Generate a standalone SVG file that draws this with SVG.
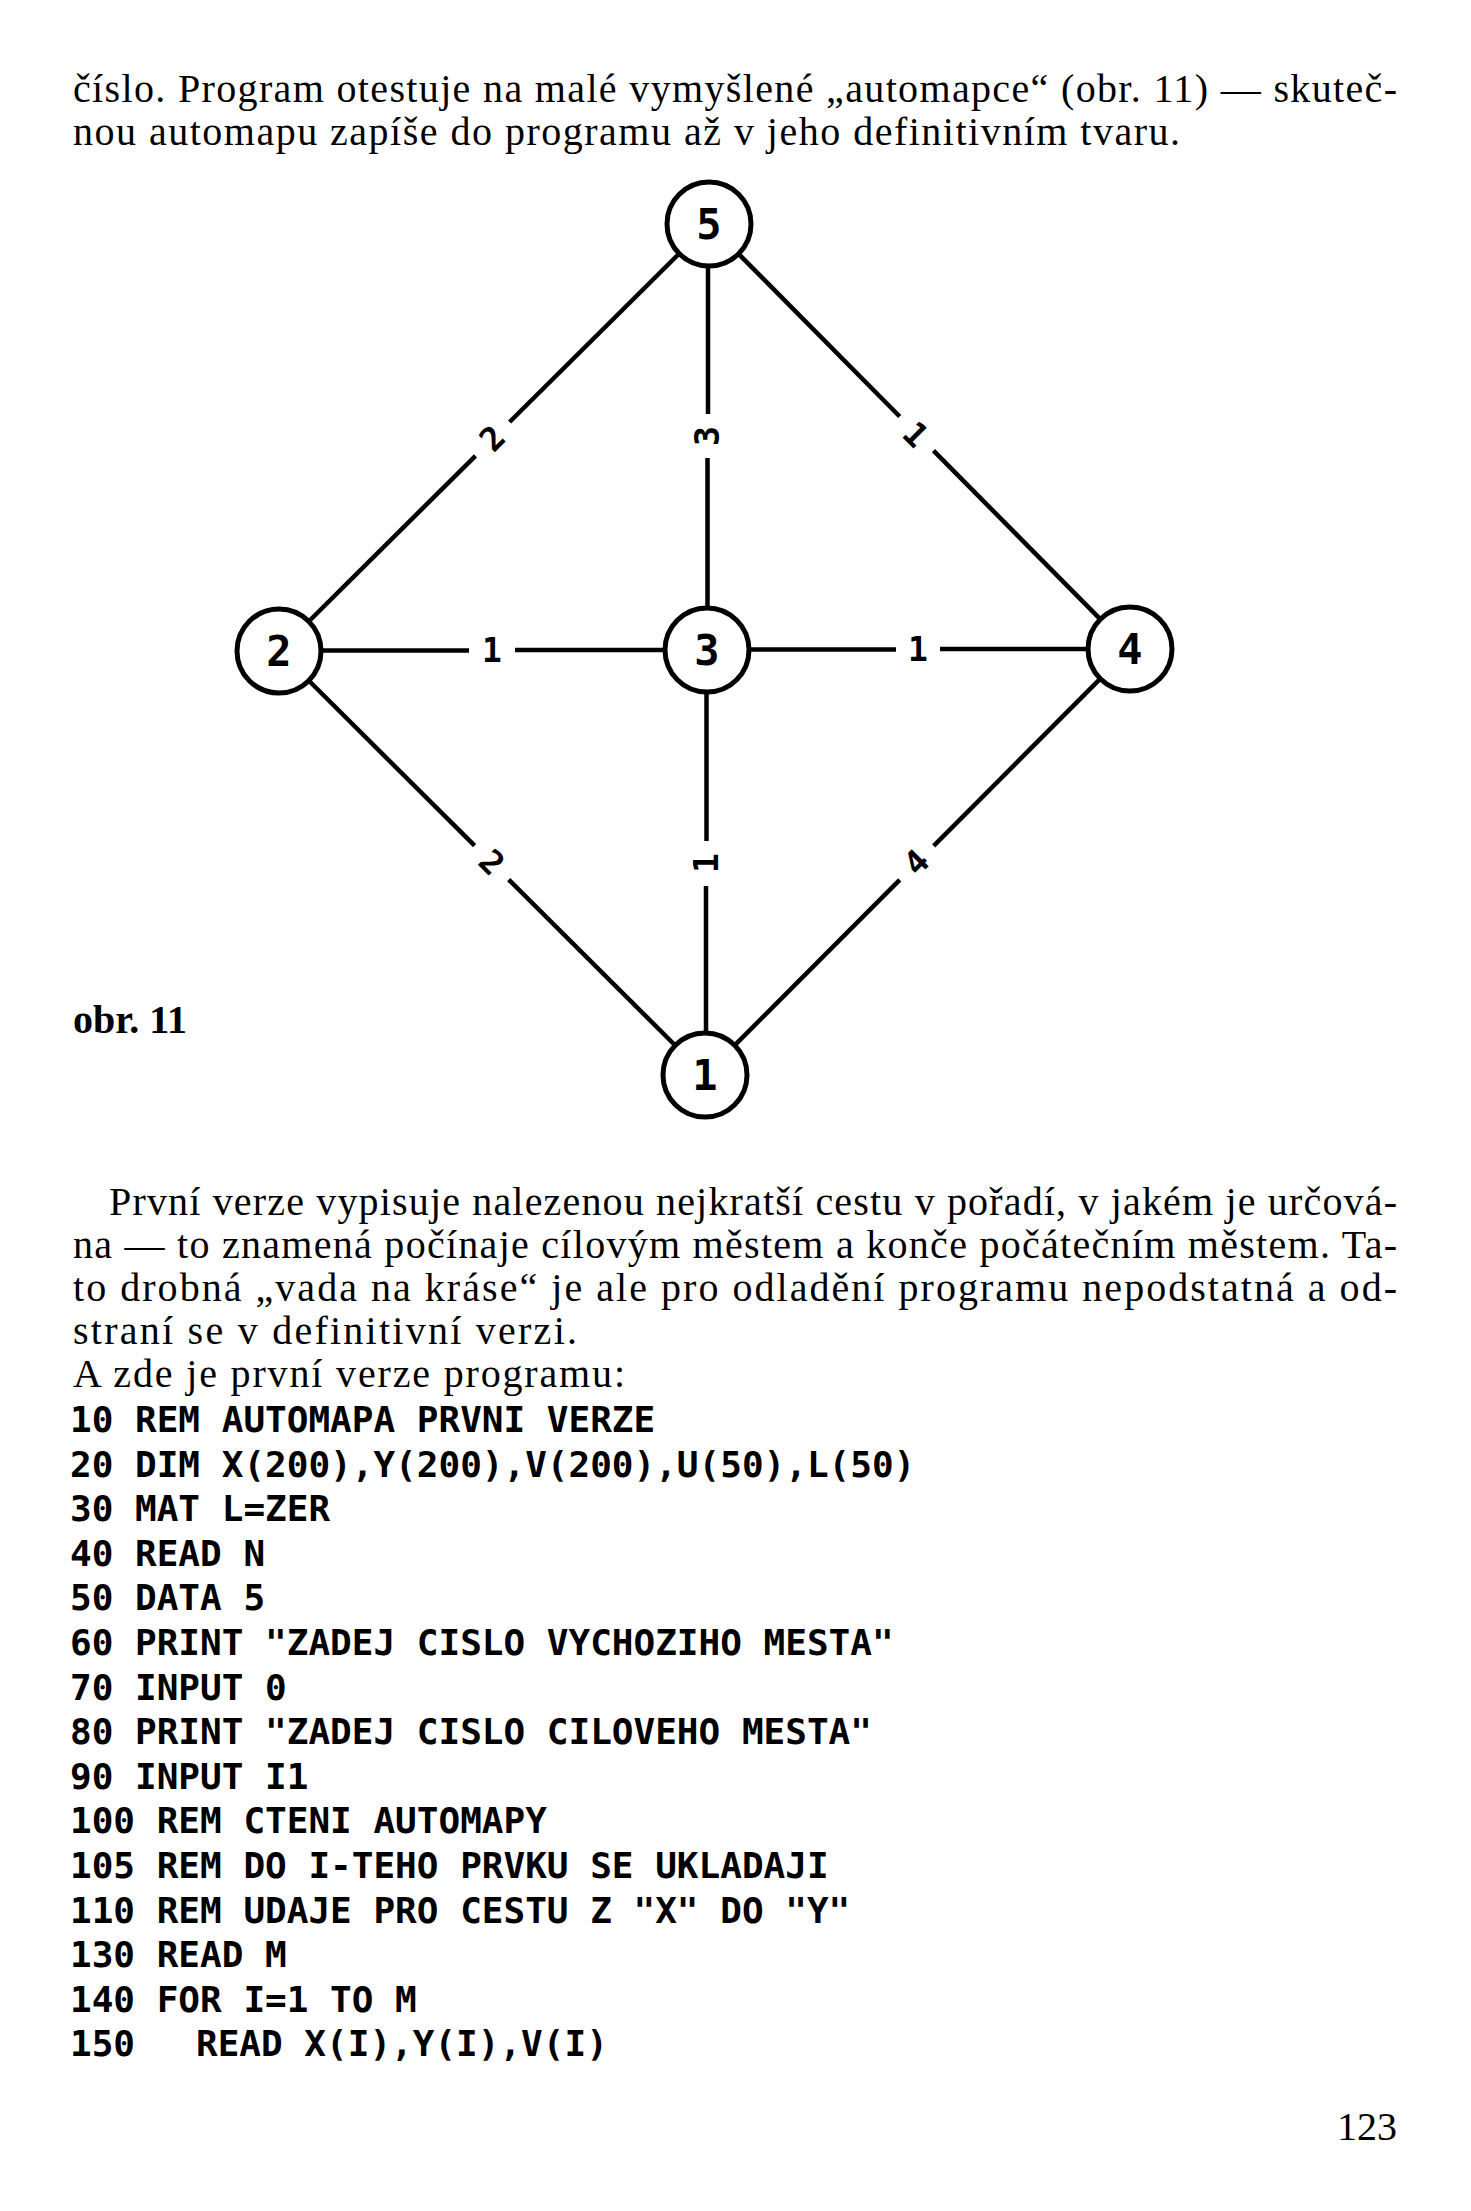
<svg xmlns="http://www.w3.org/2000/svg" width="1471" height="2211" viewBox="0 0 1471 2211">
<style>
.body{font-family:"Liberation Serif","Times New Roman",serif;font-size:40px;fill:#000}
.bold{font-weight:bold}
.code{font-family:"DejaVu Sans Mono","Liberation Mono",monospace;font-weight:bold;font-size:36px;fill:#000}
.node circle{fill:#fff;stroke:#000;stroke-width:5}
.node text{font-family:"DejaVu Sans Mono","Liberation Mono",monospace;font-weight:bold;font-size:42px;text-anchor:middle;fill:#000}
#edges line{stroke:#000;stroke-width:4.5;stroke-linecap:butt}
.elabel{font-family:"DejaVu Sans Mono","Liberation Mono",monospace;font-weight:bold;font-size:33px;text-anchor:middle;fill:#000}
</style>
<rect x="0" y="0" width="1471" height="2211" fill="#fff"/>

<g id="top-text" class="body">
<text x="73" y="102" textLength="1324" lengthAdjust="spacing">číslo. Program otestuje na malé vymyšlené „automapce“ (obr. 11) — skuteč-</text>
<text x="73" y="145" textLength="1107" lengthAdjust="spacing">nou automapu zapíše do programu až v jeho definitivním tvaru.</text>
</g>

<g id="edges">
<line x1="677.8" y1="255" x2="509.6" y2="422"/>
<line x1="475.5" y1="455.8" x2="310.2" y2="620"/>
<line x1="740" y1="255.3" x2="899.7" y2="416.5"/>
<line x1="933.5" y1="450.6" x2="1099" y2="617.8"/>
<line x1="310.2" y1="682" x2="474.6" y2="845.7"/>
<line x1="508.7" y1="879.6" x2="673.8" y2="1044"/>
<line x1="1098.9" y1="680.2" x2="933.7" y2="845.8"/>
<line x1="899.7" y1="879.8" x2="736.1" y2="1043.9"/>
<line x1="708" y1="268" x2="708" y2="414"/>
<line x1="707.5" y1="458" x2="707.5" y2="606"/>
<line x1="706.5" y1="694" x2="706.5" y2="841"/>
<line x1="706" y1="886" x2="706" y2="1031"/>
<line x1="323" y1="650.5" x2="469" y2="650.5"/>
<line x1="515" y1="650" x2="663" y2="650"/>
<line x1="751" y1="649.5" x2="896" y2="649.5"/>
<line x1="940" y1="649" x2="1086" y2="649"/>
<g transform="translate(492,438) rotate(-45)"><text class="elabel" x="0" y="12">2</text></g>
<g transform="translate(707,436) rotate(-90)"><text class="elabel" x="0" y="12">3</text></g>
<g transform="translate(916,434) rotate(45)"><text class="elabel" x="0" y="12">1</text></g>
<g transform="translate(492,650)"><text class="elabel" x="0" y="12">1</text></g>
<g transform="translate(918,649)"><text class="elabel" x="0" y="12">1</text></g>
<g transform="translate(492,862) rotate(45)"><text class="elabel" x="0" y="12">2</text></g>
<g transform="translate(706,863) rotate(-90)"><text class="elabel" x="0" y="12">1</text></g>
<g transform="translate(916,862) rotate(-45)"><text class="elabel" x="0" y="12">4</text></g>
</g>

<g id="node-5" class="node"><circle cx="709" cy="224" r="42"/><text x="709" y="239">5</text></g>
<g id="node-2" class="node"><circle cx="279" cy="651" r="42"/><text x="279" y="666">2</text></g>
<g id="node-3" class="node"><circle cx="707" cy="650" r="42"/><text x="707" y="665">3</text></g>
<g id="node-4" class="node"><circle cx="1130" cy="649" r="42"/><text x="1130" y="664">4</text></g>
<g id="node-1" class="node"><circle cx="705" cy="1075" r="42"/><text x="705" y="1090">1</text></g>

<g id="caption" class="body bold">
<text x="73" y="1033">obr. 11</text>
</g>

<g id="paragraph" class="body">
<text x="109" y="1215" textLength="1288" lengthAdjust="spacing">První verze vypisuje nalezenou nejkratší cestu v pořadí, v jakém je určová-</text>
<text x="73" y="1258" textLength="1324" lengthAdjust="spacing">na — to znamená počínaje cílovým městem a konče počátečním městem. Ta-</text>
<text x="73" y="1301" textLength="1324" lengthAdjust="spacing">to drobná „vada na kráse“ je ale pro odladění programu nepodstatná a od-</text>
<text x="73" y="1344" textLength="504" lengthAdjust="spacing">straní se v definitivní verzi.</text>
<text x="73" y="1387" textLength="552" lengthAdjust="spacing">A zde je první verze programu:</text>
</g>

<g id="code" class="code">
<text x="70" y="1432">10 REM AUTOMAPA PRVNI VERZE</text>
<text x="70" y="1477">20 DIM X(200),Y(200),V(200),U(50),L(50)</text>
<text x="70" y="1521">30 MAT L=ZER</text>
<text x="70" y="1566">40 READ N</text>
<text x="70" y="1610">50 DATA 5</text>
<text x="70" y="1655">60 PRINT "ZADEJ CISLO VYCHOZIHO MESTA"</text>
<text x="70" y="1700">70 INPUT 0</text>
<text x="70" y="1744">80 PRINT "ZADEJ CISLO CILOVEHO MESTA"</text>
<text x="70" y="1789">90 INPUT I1</text>
<text x="70" y="1833">100 REM CTENI AUTOMAPY</text>
<text x="70" y="1878">105 REM DO I-TEHO PRVKU SE UKLADAJI</text>
<text x="70" y="1923">110 REM UDAJE PRO CESTU Z "X" DO "Y"</text>
<text x="70" y="1967">130 READ M</text>
<text x="70" y="2012">140 FOR I=1 TO M</text>
<text x="70" y="2056">150<tspan x="196">READ X(I),Y(I),V(I)</tspan></text>
</g>

<g id="page-number" class="body">
<text x="1397" y="2140" text-anchor="end">123</text>
</g>
</svg>
